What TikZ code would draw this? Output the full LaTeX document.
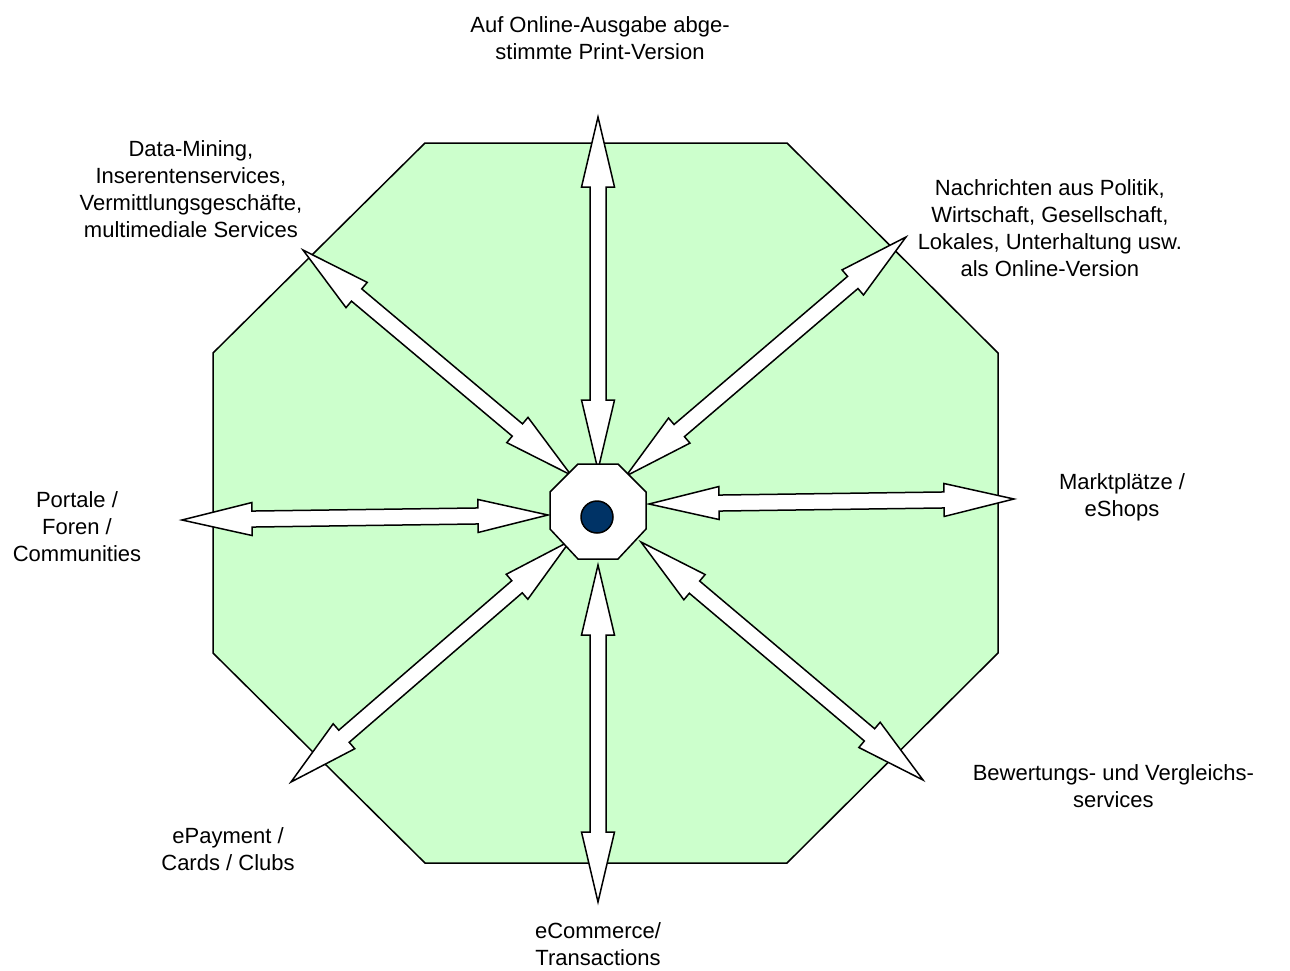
\documentclass[tikz,border=0pt]{standalone}
\usepackage{fontspec}
\setmainfont{Liberation Sans}
\usepackage{xcolor}
\usepackage{tikz}
\usetikzlibrary{calc}

\definecolor{areagreen}{HTML}{CCFFCC}
\definecolor{corenavy}{HTML}{003366}

% double block arrow between two named points
\newcommand{\dblarrow}[2]{%
  \filldraw[blockarrow] (#1)
    -- ($(#1)!70pt!(#2)!16.5pt!90:(#2)$)
    -- ($(#1)!70pt!(#2)!8pt!90:(#2)$)
    -- ($(#2)!70pt!(#1)!8pt!-90:(#1)$)
    -- ($(#2)!70pt!(#1)!16.5pt!-90:(#1)$)
    -- (#2)
    -- ($(#2)!70pt!(#1)!16.5pt!90:(#1)$)
    -- ($(#2)!70pt!(#1)!8pt!90:(#1)$)
    -- ($(#1)!70pt!(#2)!8pt!-90:(#2)$)
    -- ($(#1)!70pt!(#2)!16.5pt!-90:(#2)$)
    -- cycle;}

\begin{document}
\begin{tikzpicture}[x=1pt,y=-1pt,line width=1.5pt,
    lbl/.style={align=center,inner sep=0pt,font=\fontsize{22}{27}\selectfont},
    blockarrow/.style={draw=black,fill=white,line join=miter}]
    \useasboundingbox (0,0) rectangle (1290,970);
    % outer field
    \draw[fill=areagreen] (425,143) -- (787,143) -- (998,353) -- (998,653)
      -- (787,863) -- (425,863) -- (213,653) -- (213,353) -- cycle;
    % arrow ends
    \coordinate (nOut) at (598,117);   \coordinate (nIn) at (598,470);
    \coordinate (neOut) at (906,237);  \coordinate (neIn) at (626,476);
    \coordinate (eOut) at (1014,499);  \coordinate (eIn) at (649,504);
    \coordinate (seOut) at (923,780);  \coordinate (seIn) at (641,542);
    \coordinate (sOut) at (598,902);   \coordinate (sIn) at (598,565);
    \coordinate (swOut) at (291,782);  \coordinate (swIn) at (570,541);
    \coordinate (wOut) at (182,520);   \coordinate (wIn) at (548,515);
    \coordinate (nwOut) at (303,250);  \coordinate (nwIn) at (571,475);
    \dblarrow{nOut}{nIn}
    \dblarrow{neOut}{neIn}
    \dblarrow{eOut}{eIn}
    \dblarrow{seOut}{seIn}
    \dblarrow{sOut}{sIn}
    \dblarrow{swOut}{swIn}
    \dblarrow{wOut}{wIn}
    \dblarrow{nwOut}{nwIn}
    % core
    \draw[fill=white] (578,464) -- (618,464) -- (646,492) -- (646,529)
      -- (618,559) -- (578,559) -- (550,529) -- (550,492) -- cycle;
    \draw[fill=corenavy] (597,517) circle (16);
    % labels
    \node[lbl] (print) at (600,38) {Auf Online-Ausgabe abge-\\stimmte Print-Version};
    \node[lbl,anchor=east] (mining) at (303,189) {Data-Mining,\\Inserentenservices,\\Vermittlungsgeschäfte,\\multimediale Services};
    \node[lbl,anchor=west] (news) at (917,228) {Nachrichten aus Politik,\\Wirtschaft, Gesellschaft,\\Lokales, Unterhaltung usw.\\als Online-Version};
    \node[lbl] (market) at (1122,497) {Marktplätze /\\eShops};
    \node[lbl,anchor=west] (rating) at (972,786) {Bewertungs- und Vergleichs-\\services};
    \node[lbl] (pay) at (228,849) {ePayment /\\Cards / Clubs};
    \node[lbl] (commerce) at (598,944) {eCommerce/\\Transactions};
    \node[lbl] (portal) at (77,527) {Portale /\\Foren /\\Communities};
\end{tikzpicture}
\end{document}
